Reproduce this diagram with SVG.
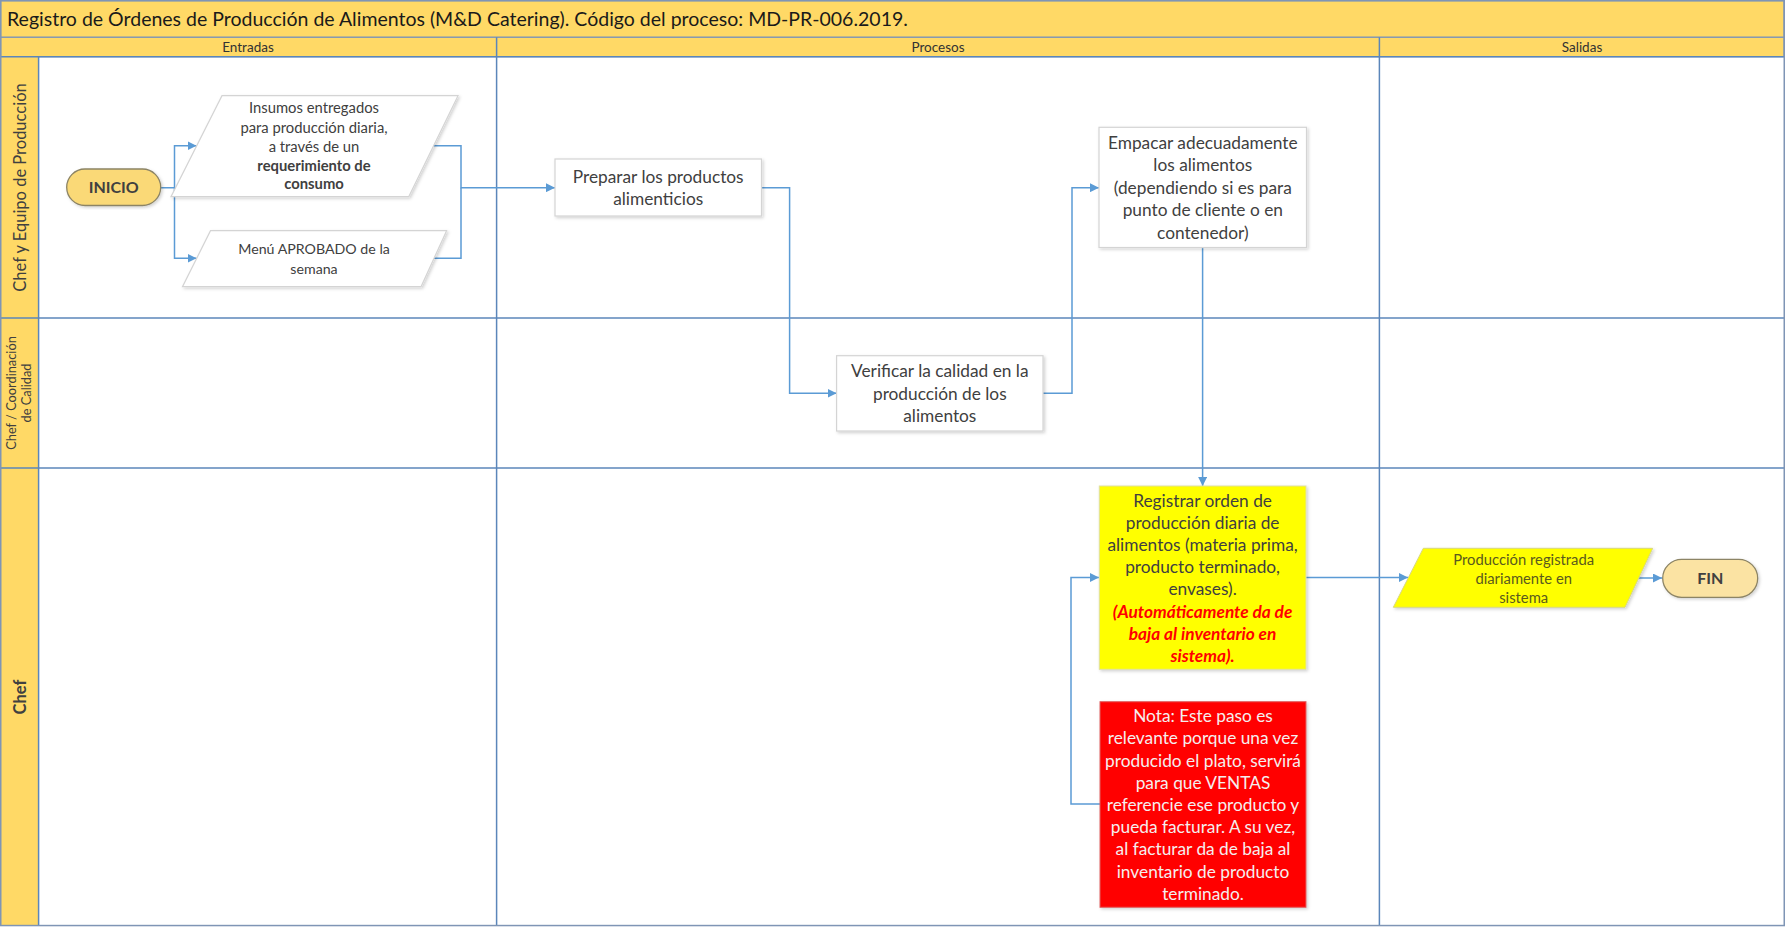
<svg xmlns="http://www.w3.org/2000/svg" width="1786" height="927" viewBox="0 0 1786 927">
<style>
text{font-family:"Lato","Liberation Sans",sans-serif;fill:#404040;text-anchor:middle}
.grid{stroke:#5B86BA;stroke-width:1.5;fill:none}
.hdr{fill:#FFD966;stroke:#7F95B5;stroke-width:1.2}
.conn{stroke:#5B9BD5;stroke-width:1.5;fill:none}
.box{fill:#FFFFFF;stroke:#D4D4D4;stroke-width:1.2}
.term{stroke:#8C8465;stroke-width:1.3}
.t16{font-size:17.3px}
.t13{font-size:14.8px}
.lane{font-size:16.5px}
</style>
<defs>
<marker id="arr" viewBox="0 0 10 10" refX="10" refY="5" markerWidth="9" markerHeight="9" markerUnits="userSpaceOnUse" orient="auto">
<path d="M0,0 L10,5 L0,10 Z" fill="#5B9BD5"/>
</marker>
<filter id="sh" x="-10%" y="-10%" width="120%" height="120%">
<feDropShadow dx="1.5" dy="1.5" stdDeviation="1.5" flood-color="#000" flood-opacity="0.18"/>
</filter>
</defs>

<g id="frame">
<rect x="0" y="0" width="1785" height="926" fill="#FFFFFF"/>
<rect class="hdr" x="0.6" y="0.6" width="1783.4" height="36.7"/>
<text x="7" y="25.5" style="text-anchor:start;font-size:19.5px;fill:#1a1a1a">Registro de Órdenes de Producción de Alimentos (M&amp;D Catering). Código del proceso: MD-PR-006.2019.</text>
<rect class="hdr" x="0.6" y="37.3" width="1783.4" height="19.4"/>
<line class="grid" x1="496.6" y1="37.3" x2="496.6" y2="56.7"/>
<line class="grid" x1="1379.4" y1="37.3" x2="1379.4" y2="56.7"/>
<text x="248" y="51.5" style="font-size:13.5px;fill:#333">Entradas</text>
<text x="938" y="51.5" style="font-size:13.5px;fill:#333">Procesos</text>
<text x="1582" y="51.5" style="font-size:13.5px;fill:#333">Salidas</text>
<rect x="0.6" y="56.7" width="38" height="869" fill="#FFD966"/>
<line class="grid" x1="0" y1="56.7" x2="1784" y2="56.7"/>
<line class="grid" x1="0" y1="318" x2="1784" y2="318"/>
<line class="grid" x1="0" y1="468" x2="1784" y2="468"/>
<line class="grid" x1="38.6" y1="56.7" x2="38.6" y2="925.5"/>
<line class="grid" x1="496.6" y1="56.7" x2="496.6" y2="925.5"/>
<line class="grid" x1="1379.4" y1="56.7" x2="1379.4" y2="925.5"/>
<rect x="0.75" y="0.75" width="1783.5" height="924.8" fill="none" stroke="#7F95B5" stroke-width="1.5"/>
<text class="lane" transform="translate(25.5,187.5) rotate(-90)">Chef y Equipo de Producción</text>
<text transform="translate(16,393) rotate(-90)" style="font-size:12.8px">Chef / Coordinación</text>
<text transform="translate(31,393) rotate(-90)" style="font-size:12.8px">de Calidad</text>
<text class="lane" transform="translate(25.5,697) rotate(-90)" style="font-weight:bold">Chef</text>
</g>

<g id="connectors">
<path class="conn" d="M161,187.7 H174.5 V145.7 H196.5" marker-end="url(#arr)"/>
<path class="conn" d="M174.5,187.7 V258.3 H196.5" marker-end="url(#arr)"/>
<path class="conn" d="M433.6,145.7 H461 V187.7 H555" marker-end="url(#arr)"/>
<path class="conn" d="M434,258.3 H461 V187.7"/>
<path class="conn" d="M761.5,187.7 H789.6 V393.3 H836.6" marker-end="url(#arr)"/>
<path class="conn" d="M1043,393.3 H1072 V187.7 H1099" marker-end="url(#arr)"/>
<path class="conn" d="M1202.6,247.5 V486" marker-end="url(#arr)"/>
<path class="conn" d="M1100,804 H1071 V577.5 H1099" marker-end="url(#arr)"/>
<path class="conn" d="M1306,577.5 H1408" marker-end="url(#arr)"/>
<path class="conn" d="M1639,578 H1662" marker-end="url(#arr)"/>
</g>

<g id="inicio">
<rect class="term" x="66.7" y="169" width="94" height="36.5" rx="18.25" fill="#FAD977" filter="url(#sh)"/>
<text x="113.7" y="193.2" style="font-size:16px;font-weight:bold">INICIO</text>
</g>

<g id="insumos">
<polygon class="box" points="222,95.7 458,95.7 408.7,196.7 171,196.7" filter="url(#sh)"/>
<text class="t13" x="314" y="113.3">Insumos entregados</text>
<text class="t13" x="314" y="132.7">para producción diaria,</text>
<text class="t13" x="314" y="151.7">a través de un</text>
<text class="t13" x="314" y="170.7" style="font-weight:bold">requerimiento de</text>
<text class="t13" x="314" y="189.3" style="font-weight:bold">consumo</text>
</g>

<g id="menu">
<polygon class="box" points="210.5,230.7 446.6,230.7 421,286.7 182.5,286.7" filter="url(#sh)"/>
<text x="314" y="254.2" style="font-size:14.2px">Menú APROBADO de la</text>
<text x="314" y="273.6" style="font-size:14.2px">semana</text>
</g>

<g id="preparar">
<rect class="box" x="555" y="159" width="206.5" height="57" filter="url(#sh)"/>
<text class="t16" x="658.2" y="182.8">Preparar los productos</text>
<text class="t16" x="658.2" y="204.8">alimenticios</text>
</g>

<g id="verificar">
<rect class="box" x="836.6" y="355.7" width="206.4" height="75.3" filter="url(#sh)"/>
<text class="t16" x="939.8" y="377">Verificar la calidad en la</text>
<text class="t16" x="939.8" y="400">producción de los</text>
<text class="t16" x="939.8" y="422">alimentos</text>
</g>

<g id="empacar">
<rect class="box" x="1099" y="127.3" width="207.5" height="120.2" filter="url(#sh)"/>
<text class="t16" x="1202.8" y="148.5">Empacar adecuadamente</text>
<text class="t16" x="1202.8" y="171">los alimentos</text>
<text class="t16" x="1202.8" y="193.5">(dependiendo si es para</text>
<text class="t16" x="1202.8" y="216">punto de cliente o en</text>
<text class="t16" x="1202.8" y="238.5">contenedor)</text>
</g>

<g id="registrar">
<rect x="1099.3" y="486" width="206.7" height="183.3" fill="#FFFF00" stroke="#E0E0A0" stroke-width="1" filter="url(#sh)"/>
<g class="t16" style="fill:#4A4A22">
<text x="1202.6" y="506.8">Registrar orden de</text>
<text x="1202.6" y="528.8">producción diaria de</text>
<text x="1202.6" y="551.1">alimentos (materia prima,</text>
<text x="1202.6" y="573.4">producto terminado,</text>
<text x="1202.6" y="595.4">envases).</text>
</g>
<g style="font-size:17.3px;font-weight:bold;font-style:italic">
<text x="1202.6" y="617.8" style="fill:#FF0000">(Automáticamente da de</text>
<text x="1202.6" y="640.1" style="fill:#FF0000">baja al inventario en</text>
<text x="1202.6" y="662.1" style="fill:#FF0000">sistema).</text>
</g>
</g>

<g id="nota">
<rect x="1100" y="701.7" width="206" height="205.6" fill="#FF0000" stroke="#E06060" stroke-width="1" filter="url(#sh)"/>
<g class="t16">
<text x="1203" y="722.1" style="fill:#F5EEEE">Nota: Este paso es</text>
<text x="1203" y="744.4" style="fill:#F5EEEE">relevante porque una vez</text>
<text x="1203" y="766.8" style="fill:#F5EEEE">producido el plato, servirá</text>
<text x="1203" y="788.8" style="fill:#F5EEEE">para que VENTAS</text>
<text x="1203" y="811.1" style="fill:#F5EEEE">referencie ese producto y</text>
<text x="1203" y="833.4" style="fill:#F5EEEE">pueda facturar. A su vez,</text>
<text x="1203" y="855.4" style="fill:#F5EEEE">al facturar da de baja al</text>
<text x="1203" y="877.8" style="fill:#F5EEEE">inventario de producto</text>
<text x="1203" y="900.1" style="fill:#F5EEEE">terminado.</text>
</g>
</g>

<g id="produccion">
<polygon points="1423.3,548.3 1652.7,548.3 1625,607.3 1393.3,607.3" fill="#FFFF00" stroke="#D8D880" stroke-width="1" filter="url(#sh)"/>
<text class="t13" x="1523.7" y="565" style="fill:#5A5A1E">Producción registrada</text>
<text class="t13" x="1523.7" y="584.3" style="fill:#5A5A1E">diariamente en</text>
<text class="t13" x="1523.7" y="603.3" style="fill:#5A5A1E">sistema</text>
</g>

<g id="fin">
<rect class="term" x="1662.7" y="559.3" width="95" height="38" rx="19" fill="#FBE3A3" filter="url(#sh)"/>
<text x="1710.2" y="584" style="font-size:16px;font-weight:bold">FIN</text>
</g>
</svg>
